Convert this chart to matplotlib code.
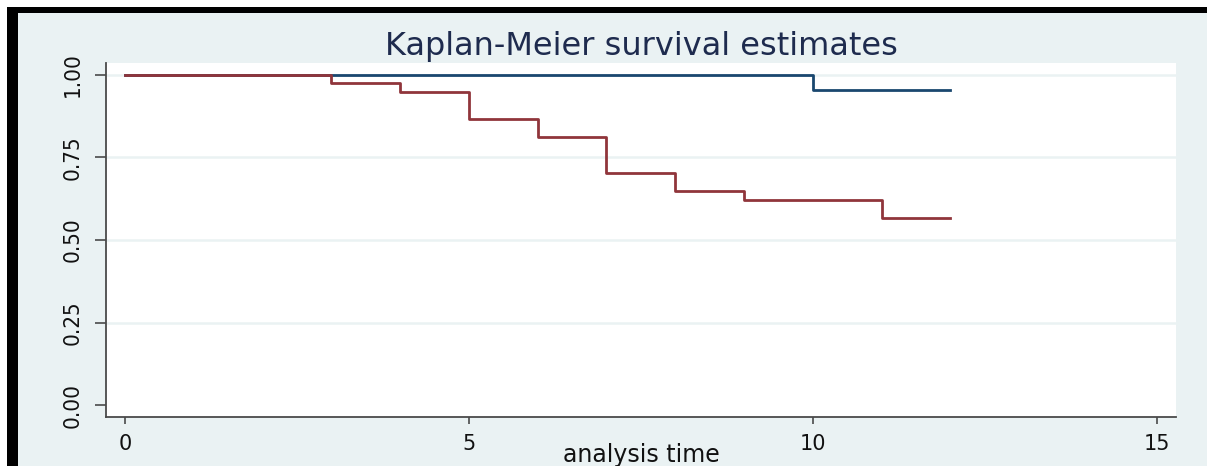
import matplotlib
matplotlib.use("Agg")
from matplotlib import pyplot as plt
from matplotlib.patches import Rectangle

# Kaplan-Meier step values
time_blue = [0, 10, 12]
surv_blue = [1.0, 0.953, 0.953]

time_red = [0, 3, 4, 5, 6, 7, 8, 9, 11, 12]
surv_red = [1.0, 0.975, 0.948, 0.867, 0.812, 0.703, 0.649, 0.622, 0.566, 0.566]

xticks = [0, 5, 10, 15]
yticks = [0.0, 0.25, 0.5, 0.75, 1.0]
ytick_labels = ["0.00", "0.25", "0.50", "0.75", "1.00"]

W, H = 1207, 466
bg = "#eaf2f3"

fig = plt.figure(figsize=(W / 100, H / 100), dpi=100, facecolor="white")
# black frame and light stata background
fig.patches.append(Rectangle((6.7 / W, 0), 1, (H - 6.7) / H, transform=fig.transFigure,
                             facecolor="black", edgecolor="none", zorder=-2))
fig.patches.append(Rectangle((18 / W, 0), 1, (H - 12.7) / H, transform=fig.transFigure,
                             facecolor=bg, edgecolor="none", zorder=-1))

ax = fig.add_axes([106 / W, (H - 417) / H, (1176 - 106) / W, (417 - 63) / H])
ax.set_facecolor("white")

for y in yticks[1:]:
    ax.axhline(y, color=bg, lw=1.8, zorder=0)

ax.step(time_blue, surv_blue, where="post", color="#1a476f", lw=2.0, zorder=2)
ax.step(time_red, surv_red, where="post", color="#90353b", lw=2.0, zorder=3)

ax.set_xlim(-0.276, 15.28)
ax.set_ylim(-0.036, 1.036)

for s in ["top", "right"]:
    ax.spines[s].set_visible(False)
for s in ["left", "bottom"]:
    ax.spines[s].set_color("#4a4a4a")
    ax.spines[s].set_linewidth(1.3)

ax.set_xticks(xticks)
ax.set_xticklabels([str(t) for t in xticks], fontsize=15, family="DejaVu Sans")
ax.tick_params(axis="x", length=5, width=1.2, color="#4a4a4a", pad=7, labelcolor="#111111")

ax.set_yticks(yticks)
ax.set_yticklabels(ytick_labels, rotation=90, va="center", fontsize=16,
                   family="DejaVu Sans", fontstretch="condensed")
ax.tick_params(axis="y", length=8, width=1.2, color="#4a4a4a", pad=9, labelcolor="#111111")

fig.text(641 / W, (H - 462) / H, "analysis time", ha="center", va="baseline",
         fontsize=17, family="DejaVu Sans", color="#111111")
fig.text(641 / W, (H - 55) / H, "Kaplan-Meier survival estimates", ha="center", va="baseline",
         fontsize=23, family="DejaVu Sans", color="#1e2b4e")

plt.savefig("out.png", dpi=100, facecolor=fig.get_facecolor())
